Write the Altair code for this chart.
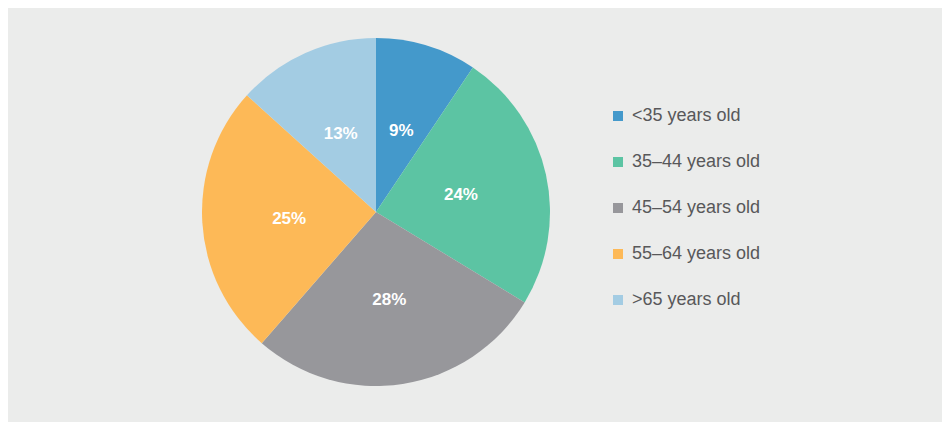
import altair as alt
import pandas as pd

categories = ["<35 years old", "35–44 years old", "45–54 years old", "55–64 years old", ">65 years old"]
shares = [9.4, 24.3, 27.7, 25.3, 13.3]
labels = ["9%", "24%", "28%", "25%", "13%"]
colors = ["#4499cb", "#5cc4a3", "#97979b", "#fdb957", "#a3cce3"]

df = pd.DataFrame({
    "category": categories,
    "share": shares,
    "label": labels,
    "idx": list(range(len(categories))),
})

cx, cy = 368, 204

base = alt.Chart(df).encode(
    theta=alt.Theta("share:Q", stack=True),
    order=alt.Order("idx:Q"),
    x=alt.value(cx),
    y=alt.value(cy),
)

pie = base.mark_arc(outerRadius=174, stroke=None).encode(
    color=alt.Color(
        "category:N",
        sort=categories,
        scale=alt.Scale(domain=categories, range=colors),
        legend=alt.Legend(
            title=None,
            orient="none",
            legendX=601,
            legendY=99,
            symbolType="square",
            symbolSize=100,
            symbolStrokeWidth=0,
            labelFontSize=18,
            labelFont="Liberation Sans",
            labelColor="#58585a",
            labelOffset=5,
            rowPadding=28,
            padding=0,
        ),
    )
)

text = base.mark_text(
    radius=87, font="Liberation Sans", fontSize=17, fontWeight="bold", color="white", dy=2
).encode(text="label:N")

chart = (
    (pie + text)
    .properties(width=934, height=414, background="#ebeceb", padding=0,
                autosize=alt.AutoSizeParams(type="none"))
    .configure_view(stroke=None)
)

chart.save("out.html", embed_options={"renderer": "svg", "actions": False})
